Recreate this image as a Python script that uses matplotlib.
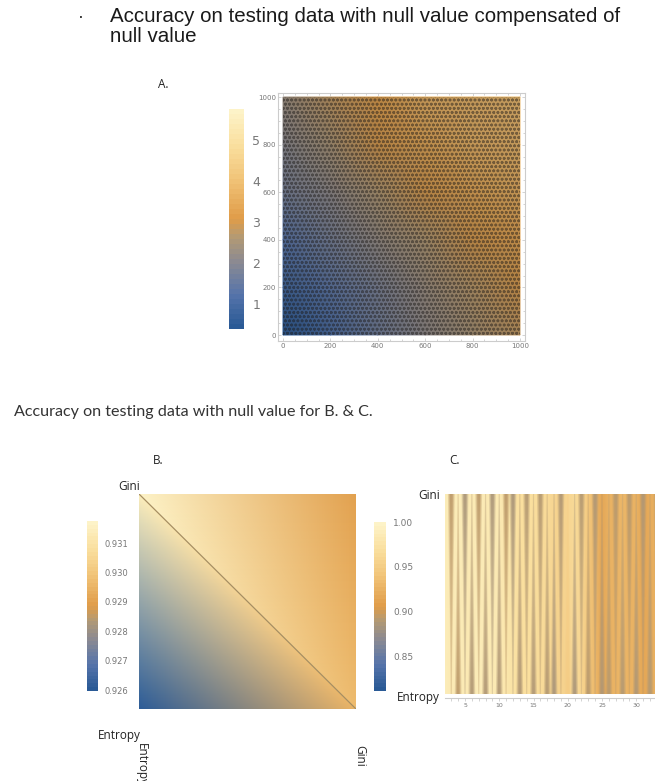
import numpy as np
import matplotlib
matplotlib.use("Agg")
import matplotlib.pyplot as plt
from matplotlib.colors import LinearSegmentedColormap, Normalize
from matplotlib.cm import ScalarMappable
from matplotlib.patches import Rectangle
from matplotlib.tri import Triangulation

W, H = 655, 781

# Panel A: values read on a coarse grid (rows bottom to top)
a_x = [0, 200, 400, 600, 800, 1000]
a_y = [0, 200, 400, 600, 800, 1000]
a_values = [
    [0.4, 1.0, 1.6, 2.1, 2.5, 2.8],
    [0.8, 1.3, 1.8, 2.3, 2.7, 3.0],
    [1.2, 1.7, 2.2, 2.6, 3.0, 3.3],
    [1.7, 2.1, 2.6, 3.0, 3.4, 3.6],
    [2.0, 2.5, 3.0, 3.4, 3.7, 3.8],
    [2.3, 2.8, 3.2, 3.7, 3.8, 3.9],
]
a_ticks = [0, 200, 400, 600, 800, 1000]
a_cbar_ticks = [1, 2, 3, 4, 5]

# Panel B: corner values of the two triangles
b_lower = {"bottom_left": 0.9260, "top_left": 0.9315, "bottom_right": 0.9295}
b_upper = {"top_left": 0.9318, "top_right": 0.9290, "bottom_right": 0.9297}
b_cbar_ticks = [0.926, 0.927, 0.928, 0.929, 0.930, 0.931]

# Panel C: accuracy per tree count, Gini (top) and Entropy (bottom)
c_x = list(range(2, 34))
c_gini = [.990, .893, .990, .885, .985, .893, .985, .885, .985, .893, .885, .970,
          .890, .970, .890, .965, .960, .888, .960, .965, .890, .945, .888, .915,
          .925, .892, .930, .892, .925, .888, .920, .895]
c_entropy = [.990, .985, .893, .985, .888, .990, .888, .985, .888, .980, .975, .888,
             .970, .888, .965, .890, .885, .955, .950, .885, .960, .892, .930, .888,
             .892, .925, .890, .925, .888, .915, .890, .925]
c_ticks = [5, 10, 15, 20, 25, 30]
c_cbar_ticks = [0.85, 0.90, 0.95, 1.00]

stops = [(0.0, "#2a5a96"), (0.15, "#5674aa"), (0.30, "#8b8a92"), (0.42, "#b59a72"),
         (0.50, "#e09c48"), (0.70, "#f2c67c"), (0.85, "#fae0a0"), (1.0, "#fdf3c8")]
cmap = LinearSegmentedColormap.from_list("temp", stops, N=256)
cmap_band = LinearSegmentedColormap.from_list("temp_band", stops, N=44)

GREY = "#777777"
LINE = "#cccccc"
fig = plt.figure(figsize=(W / 100, H / 100), dpi=100, facecolor="white")


def box(x0, y0, x1, y1):
    return fig.add_axes([x0 / W, 1 - y1 / H, (x1 - x0) / W, (y1 - y0) / H])


def label(x, y, s, **kw):
    kw.setdefault("family", "Open Sans")
    kw.setdefault("color", "#222222")
    kw.setdefault("va", "center")
    fig.text(x / W, 1 - y / H, s, **kw)


def colorbar(x0, y0, x1, y1, vmin, vmax, ticks, fmt, size, color=GREY, pad=5):
    cax = box(x0, y0, x1, y1)
    sm = ScalarMappable(Normalize(vmin, vmax), cmap_band)
    cb = fig.colorbar(sm, cax=cax, ticks=ticks, format=fmt)
    cb.outline.set_visible(False)
    cb.ax.tick_params(length=0, labelsize=size, labelcolor=color, pad=pad)
    return cb


# ---- Headings ----
label(78, 17, "·", family="Liberation Sans", fontsize=13)
label(110, 22, "Accuracy on testing data with null value compensated of",
      family="Liberation Sans", fontsize=14.75, color="#1a1a1a", va="baseline")
label(110, 42, "null value", family="Liberation Sans", fontsize=14.75, color="#1a1a1a",
      va="baseline")
label(14, 416, "Accuracy on testing data with null value for B. & C.",
      family="Lato", fontsize=11.6, color="#333333", va="baseline")
label(158, 84, "A.", fontsize=8.5)
label(153, 460, "B.", fontsize=8.5)
label(449, 460, "C.", fontsize=8.5)

# ---- Panel A ----
ax = box(278, 93, 525, 341)
sx = 1000 / (520 - 283)
ax.set_xlim(-5 * sx, 1000 + 5 * sx)
sy = 1000 / (335 - 97)
ax.set_ylim(-6 * sy, 1000 + 4 * sy)
ax.pcolormesh(a_x, a_y, np.array(a_values), cmap=cmap, norm=Normalize(0.4, 5.75),
              shading="gouraud", rasterized=True)
plt.rcParams["hatch.linewidth"] = 0.8
ax.add_patch(Rectangle((a_x[0], a_y[0]), a_x[-1] - a_x[0], a_y[-1] - a_y[0],
                       facecolor="none", edgecolor="#1d1a18", alpha=0.45,
                       hatch="oooo", linewidth=0))
ax.add_patch(Rectangle((a_x[0], a_y[0]), a_x[-1] - a_x[0], a_y[-1] - a_y[0],
                       facecolor="#1d1a18", alpha=0.20, linewidth=0))
ax.set_xticks(a_ticks)
ax.set_yticks(a_ticks)
ax.xaxis.set_minor_locator(plt.MultipleLocator(50))
ax.yaxis.set_minor_locator(plt.MultipleLocator(50))
ax.tick_params(which="both", direction="in", color=LINE, top=True, right=True,
               labelsize=5, labelcolor=GREY, length=2.5, width=0.6, pad=1.5)
ax.tick_params(which="minor", length=1.5)
for s in ax.spines.values():
    s.set_color(LINE)
    s.set_linewidth(0.8)
colorbar(229, 109, 244, 329, 0.4, 5.75, a_cbar_ticks, "%d", 9, pad=6)

# ---- Panel B ----
ax = box(139, 494, 356, 709)
tri_x = [0, 0, 1, 0, 1, 1]
tri_y = [0, 1, 0, 1, 1, 0]
tri_v = [b_lower["bottom_left"], b_lower["top_left"], b_lower["bottom_right"],
         b_upper["top_left"], b_upper["top_right"], b_upper["bottom_right"]]
ax.tripcolor(Triangulation(tri_x, tri_y, [[0, 1, 2], [3, 4, 5]]), tri_v, cmap=cmap,
             norm=Normalize(0.92597, 0.93175), shading="gouraud")
ax.plot([0, 1], [1, 0], color="#a68e62", lw=0.9)
ax.set_xlim(0, 1)
ax.set_ylim(0, 1)
ax.set_xticks([])
ax.set_yticks([])
for s in ax.spines.values():
    s.set_visible(False)
colorbar(87, 521, 98, 691, 0.92597, 0.93175, b_cbar_ticks, "%.3f", 6, pad=5)
label(118, 486, "Gini", fontsize=8.5)
label(98, 735, "Entropy", fontsize=8.5)
label(135, 743, "Entropy", fontsize=8.5, rotation=-90, va="top", ha="left")
label(353, 745, "Gini", fontsize=8.5, rotation=-90, va="top", ha="left")

# ---- Panel C ----
ax = box(445, 494, 655, 694)
norm_c = Normalize(0.811, 1.0)
n = len(c_x)
gini = np.array(c_gini)
entropy = np.array(c_entropy)
base = np.maximum(gini, entropy)
xs = np.array(c_x + c_x, dtype=float)
ys = np.array([1.0] * n + [0.0] * n)
tris = []
for i in range(n - 1):
    tris += [[i, i + 1, n + i], [i + 1, n + i, n + i + 1]]
ax.tripcolor(Triangulation(xs, ys, tris), np.r_[base, base], cmap=cmap, norm=norm_c,
             shading="gouraud")
for half, alpha in [(0.42, 0.35), (0.26, 0.5), (0.12, 0.8)]:
    for x, g, e, b in zip(c_x, gini, entropy, base):
        if b - min(g, e) < 0.005:
            continue
        tip_y, far_y, low = (1.0, 0.0, g) if g < e else (0.0, 1.0, e)
        ax.tripcolor(Triangulation([x - half, x + half, x], [tip_y, tip_y, far_y], [[0, 1, 2]]),
                     [low, low, b], cmap=cmap, norm=norm_c, shading="gouraud", alpha=alpha)
ax.set_xlim(2.08, 2.08 + 210 / 6.85)
ax.set_ylim(0, 1)
ax.set_xticks(c_ticks)
ax.xaxis.set_minor_locator(plt.MultipleLocator(1))
ax.set_yticks([])
ax.tick_params(axis="x", which="both", color=LINE, labelsize=4.5, labelcolor=GREY,
               length=2, width=0.6, pad=1.5)
for k, s in ax.spines.items():
    s.set_visible(k == "bottom")
    s.set_color(LINE)
ax.spines["bottom"].set_position(("outward", 3))
colorbar(374, 522, 386, 691, 0.811, 1.0, c_cbar_ticks, "%.2f", 6.5, pad=5)
label(418, 496, "Gini", fontsize=8.5)
label(397, 697, "Entropy", fontsize=8.5)

fig.savefig("out.png", dpi=100)
